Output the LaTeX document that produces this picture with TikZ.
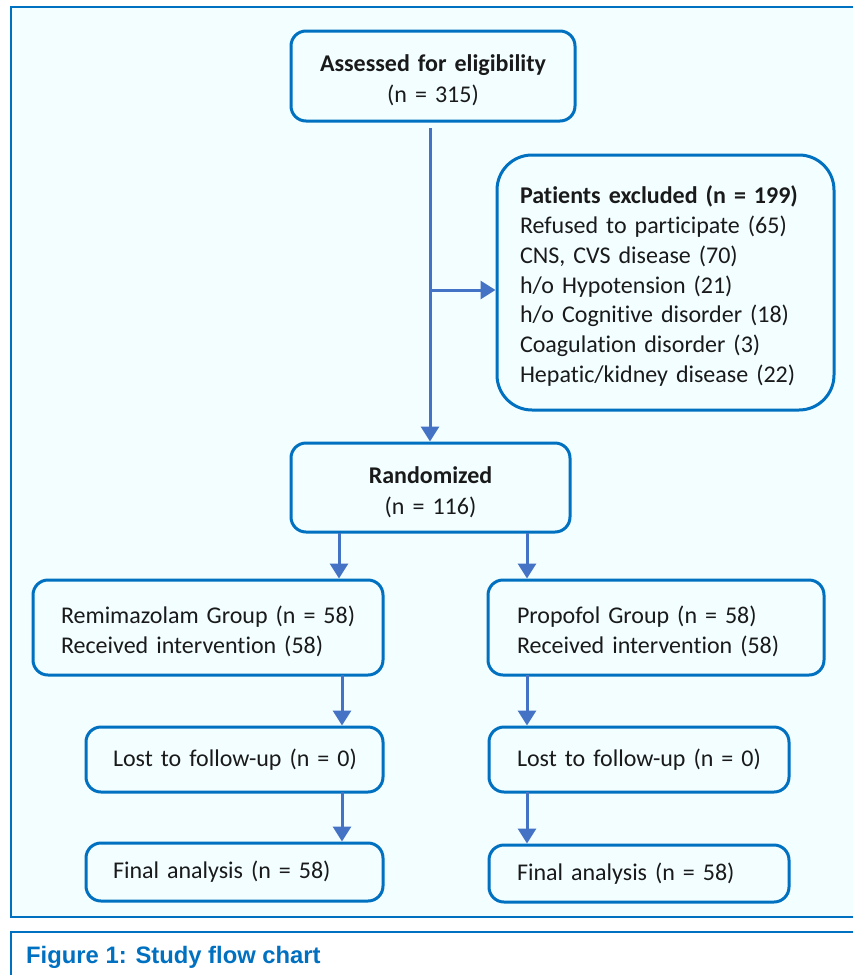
\documentclass[tikz,border=0pt]{standalone}
\usepackage{fontspec}
\setmainfont{Carlito}[Ligatures={NoCommon}]
\newfontfamily\capfont{Liberation Sans}
\usetikzlibrary{arrows.meta}
\definecolor{bgc}{HTML}{F2FEFF}
\definecolor{framec}{HTML}{0070C0}
\definecolor{arrc}{HTML}{4472C4}
\definecolor{txtc}{HTML}{1A1A1A}
\tikzset{
  fbox/.style={draw=framec, line width=3pt, fill=bgc, rounded corners=15pt,
    inner ysep=0pt, text=txtc, font=\fontsize{24}{29.7}\selectfont},
  lbox/.style={fbox, align=left},
  cbox/.style={fbox, align=center, inner xsep=4pt, font=\fontsize{24}{31}\selectfont},
  mline/.style={execute at begin node={\rule{0pt}{25pt}}},
  cline/.style={execute at begin node={\rule{0pt}{26pt}}},
  arr/.style={draw=arrc, line width=3pt, -{Triangle[width=18pt,length=15pt]}},
}
\begin{document}
\begin{tikzpicture}[x=1pt,y=-1pt]
\useasboundingbox (0,0) rectangle (853,975);
\clip (0,0) rectangle (853,975);
\fill[white] (0,0) rectangle (853,975);
% main frame
\draw[draw=framec, line width=2.5pt, fill=bgc] (11,7) rectangle (880,917);
% caption frame
\draw[draw=framec, line width=2pt, fill=white] (11,932) rectangle (880,1000);
\node[anchor=base west, inner sep=0pt, text=framec, font=\capfont\bfseries\fontsize{23.8}{27}\selectfont] (cap) at (26,963) {Figure 1: Study flow chart};

% boxes
\node[cbox, cline, minimum height=90pt, text width=276pt] (assess) at (433,76)
  {\textbf{Assessed for eligibility}\\(n = 315)};
\node[lbox, mline, rounded corners=35pt, minimum height=255pt, inner xsep=23pt, text width=291pt] (excl) at (665.5,282.5)
  {\mbox{\textbf{Patients excluded (n = 199)}}\\\mbox{Refused to participate (65)}\\\mbox{CNS, CVS disease (70)}\\\mbox{h/o Hypotension (21)}\\\mbox{h/o Cognitive disorder (18)}\\\mbox{Coagulation disorder (3)}\\\mbox{Hepatic/kidney disease (22)}};
\node[cbox, cline, minimum height=89pt, text width=271pt] (rand) at (430.5,487.5)
  {\textbf{Randomized}\\(n = 116)};
\node[lbox, mline, minimum height=95pt, inner xsep=28pt, text width=294pt] (remi) at (208,627.5)
  {\mbox{Remimazolam Group (n = 58)}\\\mbox{Received intervention (58)}};
\node[lbox, mline, minimum height=95pt, inner xsep=29pt, text width=278pt] (prop) at (656,627.5)
  {\mbox{Propofol Group (n = 58)}\\\mbox{Received intervention (58)}};
\node[lbox, minimum height=65pt, inner xsep=27pt, text width=243pt] (lostL) at (234.5,759.5)
  {\mbox{Lost to follow-up (n = 0)}};
\node[lbox, minimum height=65pt, inner xsep=28pt, text width=244pt] (lostR) at (639,759.5)
  {\mbox{Lost to follow-up (n = 0)}};
\node[lbox, minimum height=58pt, inner xsep=27pt, text width=243pt] (finL) at (234.5,872)
  {\mbox{Final analysis (n = 58)}};
\node[lbox, minimum height=57pt, inner xsep=28pt, text width=244pt] (finR) at (639,873.5)
  {\mbox{Final analysis (n = 58)}};

% connectors
\coordinate (vtop) at (430,128);
\coordinate (br) at (430,290);
\draw[arr] (vtop) -- (vtop |- rand.north);
\draw[arr] (br) -- (br -| excl.west);
\coordinate (s1) at (339,533);
\coordinate (s2) at (527,533);
\draw[arr] (s1) -- (s1 |- remi.north);
\draw[arr] (s2) -- (s2 |- prop.north);
\coordinate (s3) at (342,675);
\coordinate (s4) at (527,675);
\draw[arr] (s3) -- (s3 |- lostL.north);
\draw[arr] (s4) -- (s4 |- lostR.north);
\coordinate (s5) at (342,792);
\coordinate (s6) at (527,792);
\draw[arr] (s5) -- (s5 |- finL.north);
\draw[arr] (s6) -- (s6 |- finR.north);
\end{tikzpicture}
\end{document}
